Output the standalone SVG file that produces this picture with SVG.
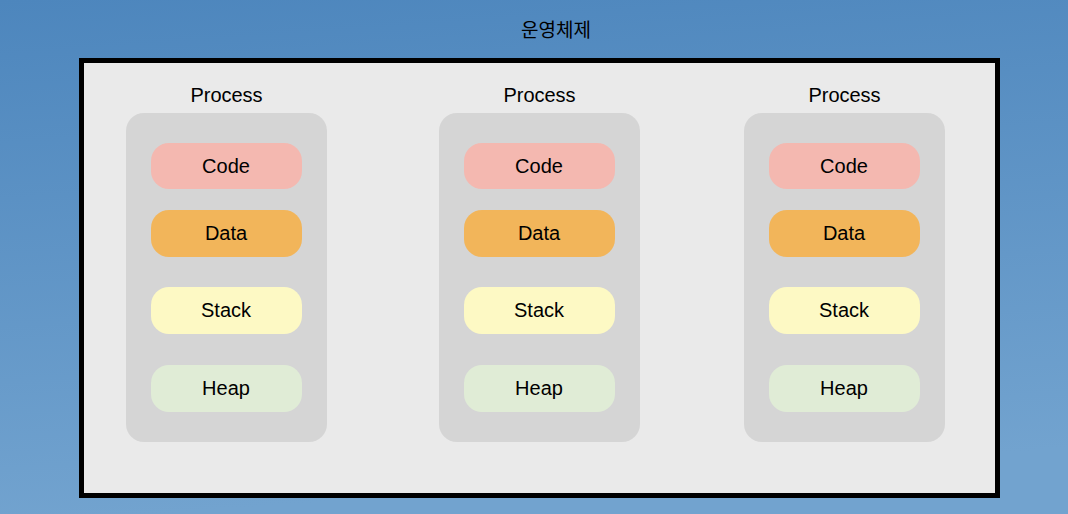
<svg xmlns="http://www.w3.org/2000/svg" width="1068" height="514" viewBox="0 0 1068 514">
<defs>
<linearGradient id="bg" x1="0" y1="0" x2="0.15" y2="1">
<stop offset="0" stop-color="#4d86bd"/>
<stop offset="1" stop-color="#72a3cf"/>
</linearGradient>
<style>
text{font-family:"Liberation Sans",Arial,sans-serif;fill:#000;text-anchor:middle}
.t{font-size:20px}
.lbl{font-size:20px}
.proc{fill:#d5d5d5}
.code{fill:#f4b8b0}
.data{fill:#f2b55a}
.stack{fill:#fdf9c4}
.heap{fill:#e0ecd6}
</style>
</defs>
<rect width="1068" height="514" fill="url(#bg)"/>
<text x="556" y="37" style="font-family:'Liberation Sans','Noto Sans CJK KR',sans-serif;font-size:19px">운영체제</text>
<g id="os">
<rect x="81.5" y="60.5" width="916" height="435" fill="#eaeaea" stroke="#000" stroke-width="5"/>
</g>
<g id="process1">
<text class="t" x="226.5" y="102">Process</text>
<rect class="proc" x="126" y="113" width="201" height="329" rx="18"/>
<rect class="code" x="151" y="143" width="151" height="46" rx="18"/>
<text class="lbl" x="226" y="173">Code</text>
<rect class="data" x="151" y="210" width="151" height="47" rx="18"/>
<text class="lbl" x="226" y="240">Data</text>
<rect class="stack" x="151" y="287" width="151" height="47" rx="18"/>
<text class="lbl" x="226" y="317">Stack</text>
<rect class="heap" x="151" y="365" width="151" height="47" rx="18"/>
<text class="lbl" x="226" y="395">Heap</text>
</g>
<g id="process2">
<text class="t" x="539.5" y="102">Process</text>
<rect class="proc" x="439" y="113" width="201" height="329" rx="18"/>
<rect class="code" x="464" y="143" width="151" height="46" rx="18"/>
<text class="lbl" x="539" y="173">Code</text>
<rect class="data" x="464" y="210" width="151" height="47" rx="18"/>
<text class="lbl" x="539" y="240">Data</text>
<rect class="stack" x="464" y="287" width="151" height="47" rx="18"/>
<text class="lbl" x="539" y="317">Stack</text>
<rect class="heap" x="464" y="365" width="151" height="47" rx="18"/>
<text class="lbl" x="539" y="395">Heap</text>
</g>
<g id="process3">
<text class="t" x="844.5" y="102">Process</text>
<rect class="proc" x="744" y="113" width="201" height="329" rx="18"/>
<rect class="code" x="769" y="143" width="151" height="46" rx="18"/>
<text class="lbl" x="844" y="173">Code</text>
<rect class="data" x="769" y="210" width="151" height="47" rx="18"/>
<text class="lbl" x="844" y="240">Data</text>
<rect class="stack" x="769" y="287" width="151" height="47" rx="18"/>
<text class="lbl" x="844" y="317">Stack</text>
<rect class="heap" x="769" y="365" width="151" height="47" rx="18"/>
<text class="lbl" x="844" y="395">Heap</text>
</g>
<g id="connectors"/>
</svg>
